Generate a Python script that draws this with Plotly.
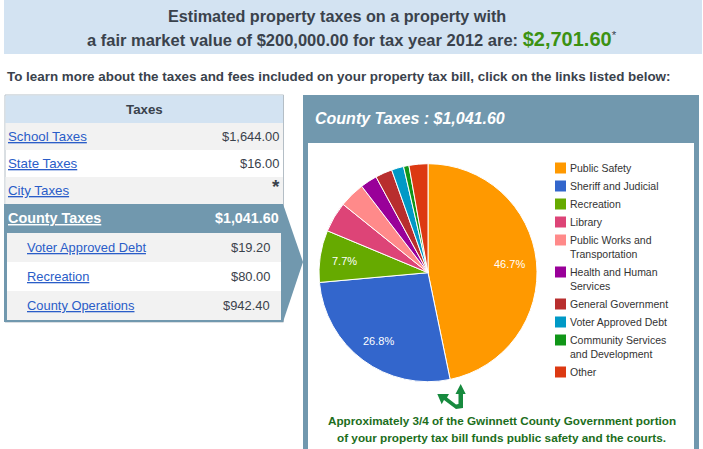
import plotly.graph_objects as go

W, H = 703, 449

# pie data
categories = ["Public Safety", "Sheriff and Judicial", "Recreation", "Library",
              "Public Works and<br>Transportation", "Health and Human<br>Services",
              "General Government", "Voter Approved Debt",
              "Community Services<br>and Development", "Other"]
shares = [46.7, 26.8, 7.7, 4.5, 3.8, 2.5, 2.5, 1.8, 0.8, 2.8]
colors = ["#FF9900", "#3366CC", "#66AA00", "#DD4477", "#FF8A8A",
          "#990099", "#B82E2E", "#0099C6", "#109618", "#DC3912"]

# table data
top_rows = ["School Taxes", "State Taxes", "City Taxes"]
top_amounts = ["$1,644.00", "$16.00", ""]
sub_rows = ["Voter Approved Debt", "Recreation", "County Operations"]
sub_amounts = ["$19.20", "$80.00", "$942.40"]

STEEL = "#7198AE"
BANNER = "#D3E3F2"
GREY = "#F2F2F2"
LINK = "#2A5DC8"
DARK = "#3A424C"
FONT = "Liberation Sans"


def px(x):
    return x / W


def py(y):
    return 1 - y / H


shapes = []
annotations = []


def rect(x0, y0, x1, y1, color, line=None):
    shapes.append(dict(type="rect", xref="paper", yref="paper", layer="below",
                       x0=px(x0), x1=px(x1), y0=py(y0), y1=py(y1), fillcolor=color,
                       line=dict(color=line, width=1) if line else dict(width=0)))


def poly(points, color, layer="below"):
    path = "M " + " L ".join(f"{px(x):.5f},{py(y):.5f}" for x, y in points) + " Z"
    shapes.append(dict(type="path", xref="paper", yref="paper", layer=layer, path=path,
                       fillcolor=color, line=dict(width=0)))


def label(x, y, text, size=13, color=DARK, anchor="left"):
    annotations.append(dict(x=px(x), y=py(y), xref="paper", yref="paper", text=text,
                            showarrow=False, xanchor=anchor, yanchor="middle", borderpad=0,
                            align=anchor,
                            font=dict(family=FONT, size=size, color=color)))


# top banner
rect(4, 0, 702, 54, BANNER)
label(337, 16, "<b>Estimated property taxes on a property with</b>", 16.2, DARK, "center")
label(352.5, 39, "<b>a fair market value of $200,000.00 for tax year 2012 are: "
                 "<span style='font-size:20px;color:#3C9212'>$2,701.60</span></b><sup>*</sup>",
      16.5, DARK, "center")
label(5.5, 76, "<b>To learn more about the taxes and fees included on your property tax bill, "
               "click on the links listed below:</b>", 13.4)

# left table
rect(5, 95, 283.5, 322, "white", "#B4BEC6")
rect(5.5, 95.5, 283, 123, BANNER)
label(144, 109, "<b>Taxes</b>", 13.3, DARK, "center")
for i, (name, amount) in enumerate(zip(top_rows, top_amounts)):
    y0 = 123 + 27 * i
    if i % 2 == 0:
        rect(5.5, y0, 283, y0 + 27, GREY)
    label(6.5, y0 + 13.5, f"<u>{name}</u>", 13.3, LINK)
    if amount:
        label(280, y0 + 13.5, amount, 12.9, DARK, "right")
label(281, 187, "<b>*</b>", 19, DARK, "right")

# county block with the pointer into the right panel
poly([(4, 204), (283, 204), (303, 262), (283, 322), (4, 322)], STEEL)
label(7, 217.5, "<b><u>County Taxes</u></b>", 14.4, "white")
label(280, 217.5, "<b>$1,041.60</b>", 14.3, "white", "right")
for i, (name, amount) in enumerate(zip(sub_rows, sub_amounts)):
    y0 = 233 + 29 * i
    rect(7, y0, 281, y0 + 29, GREY if i % 2 == 0 else "white")
    label(25.5, y0 + 14, f"<u>{name}</u>", 12.9, LINK)
    label(271, y0 + 14, amount, 12.9, DARK, "right")

# right panel
rect(303, 95, 699, 449, STEEL)
rect(308, 143, 694, 449, "white")
label(314, 118, "<b><i>County Taxes : $1,041.60</i></b>", 16, "white")

# legend
legend_y = [168, 186, 204, 222, 240, 272, 304, 322, 340, 372]
for name, color, y in zip(categories, colors, legend_y):
    rect(555, y - 5.5, 566, y + 5.5, color)
    text_y = y + 7 if "<br>" in name else y
    label(569, text_y, name, 10.5, "#333333")

# percent labels on the three large slices
label(509, 264, f"{shares[0]}%", 11, "white", "center")
label(378, 341, f"{shares[1]}%", 11, "white", "center")
label(344, 261, f"{shares[2]}%", 11, "white", "center")

# green arrows under the pie
ARROW = "#178A3E"
poly([(460.7, 384), (465.7, 394), (463, 394), (463, 408), (456, 409), (444, 400), (441.7, 404.3),
      (437.3, 394), (449, 394), (447, 397.5), (456, 404.5), (458.5, 404), (458.5, 394), (455.5, 394)],
     ARROW, "above")

label(501.5, 420, "<b>Approximately 3/4 of the Gwinnett County Government portion</b>", 11.7, "#1C6E1C", "center")
label(501.5, 437, "<b>of your property tax bill funds public safety and the courts.</b>", 11.75, "#1C6E1C", "center")

cx, cy, r = 428, 272.7, 109

fig = go.Figure(go.Pie(
    labels=categories,
    values=shares,
    sort=False,
    direction="clockwise",
    rotation=0,
    textinfo="none",
    hoverinfo="label+percent",
    showlegend=False,
    marker=dict(colors=colors, line=dict(color="white", width=1)),
    domain=dict(x=[px(cx - r), px(cx + r)], y=[py(cy + r), py(cy - r)]),
))

fig.update_layout(
    width=W,
    height=H,
    margin=dict(l=0, r=0, t=0, b=0),
    paper_bgcolor="white",
    font=dict(family=FONT),
    shapes=shapes,
    annotations=annotations,
)

fig.write_html("out.html", config=dict(displayModeBar=False),
               post_script="document.body.style.margin='0';")
